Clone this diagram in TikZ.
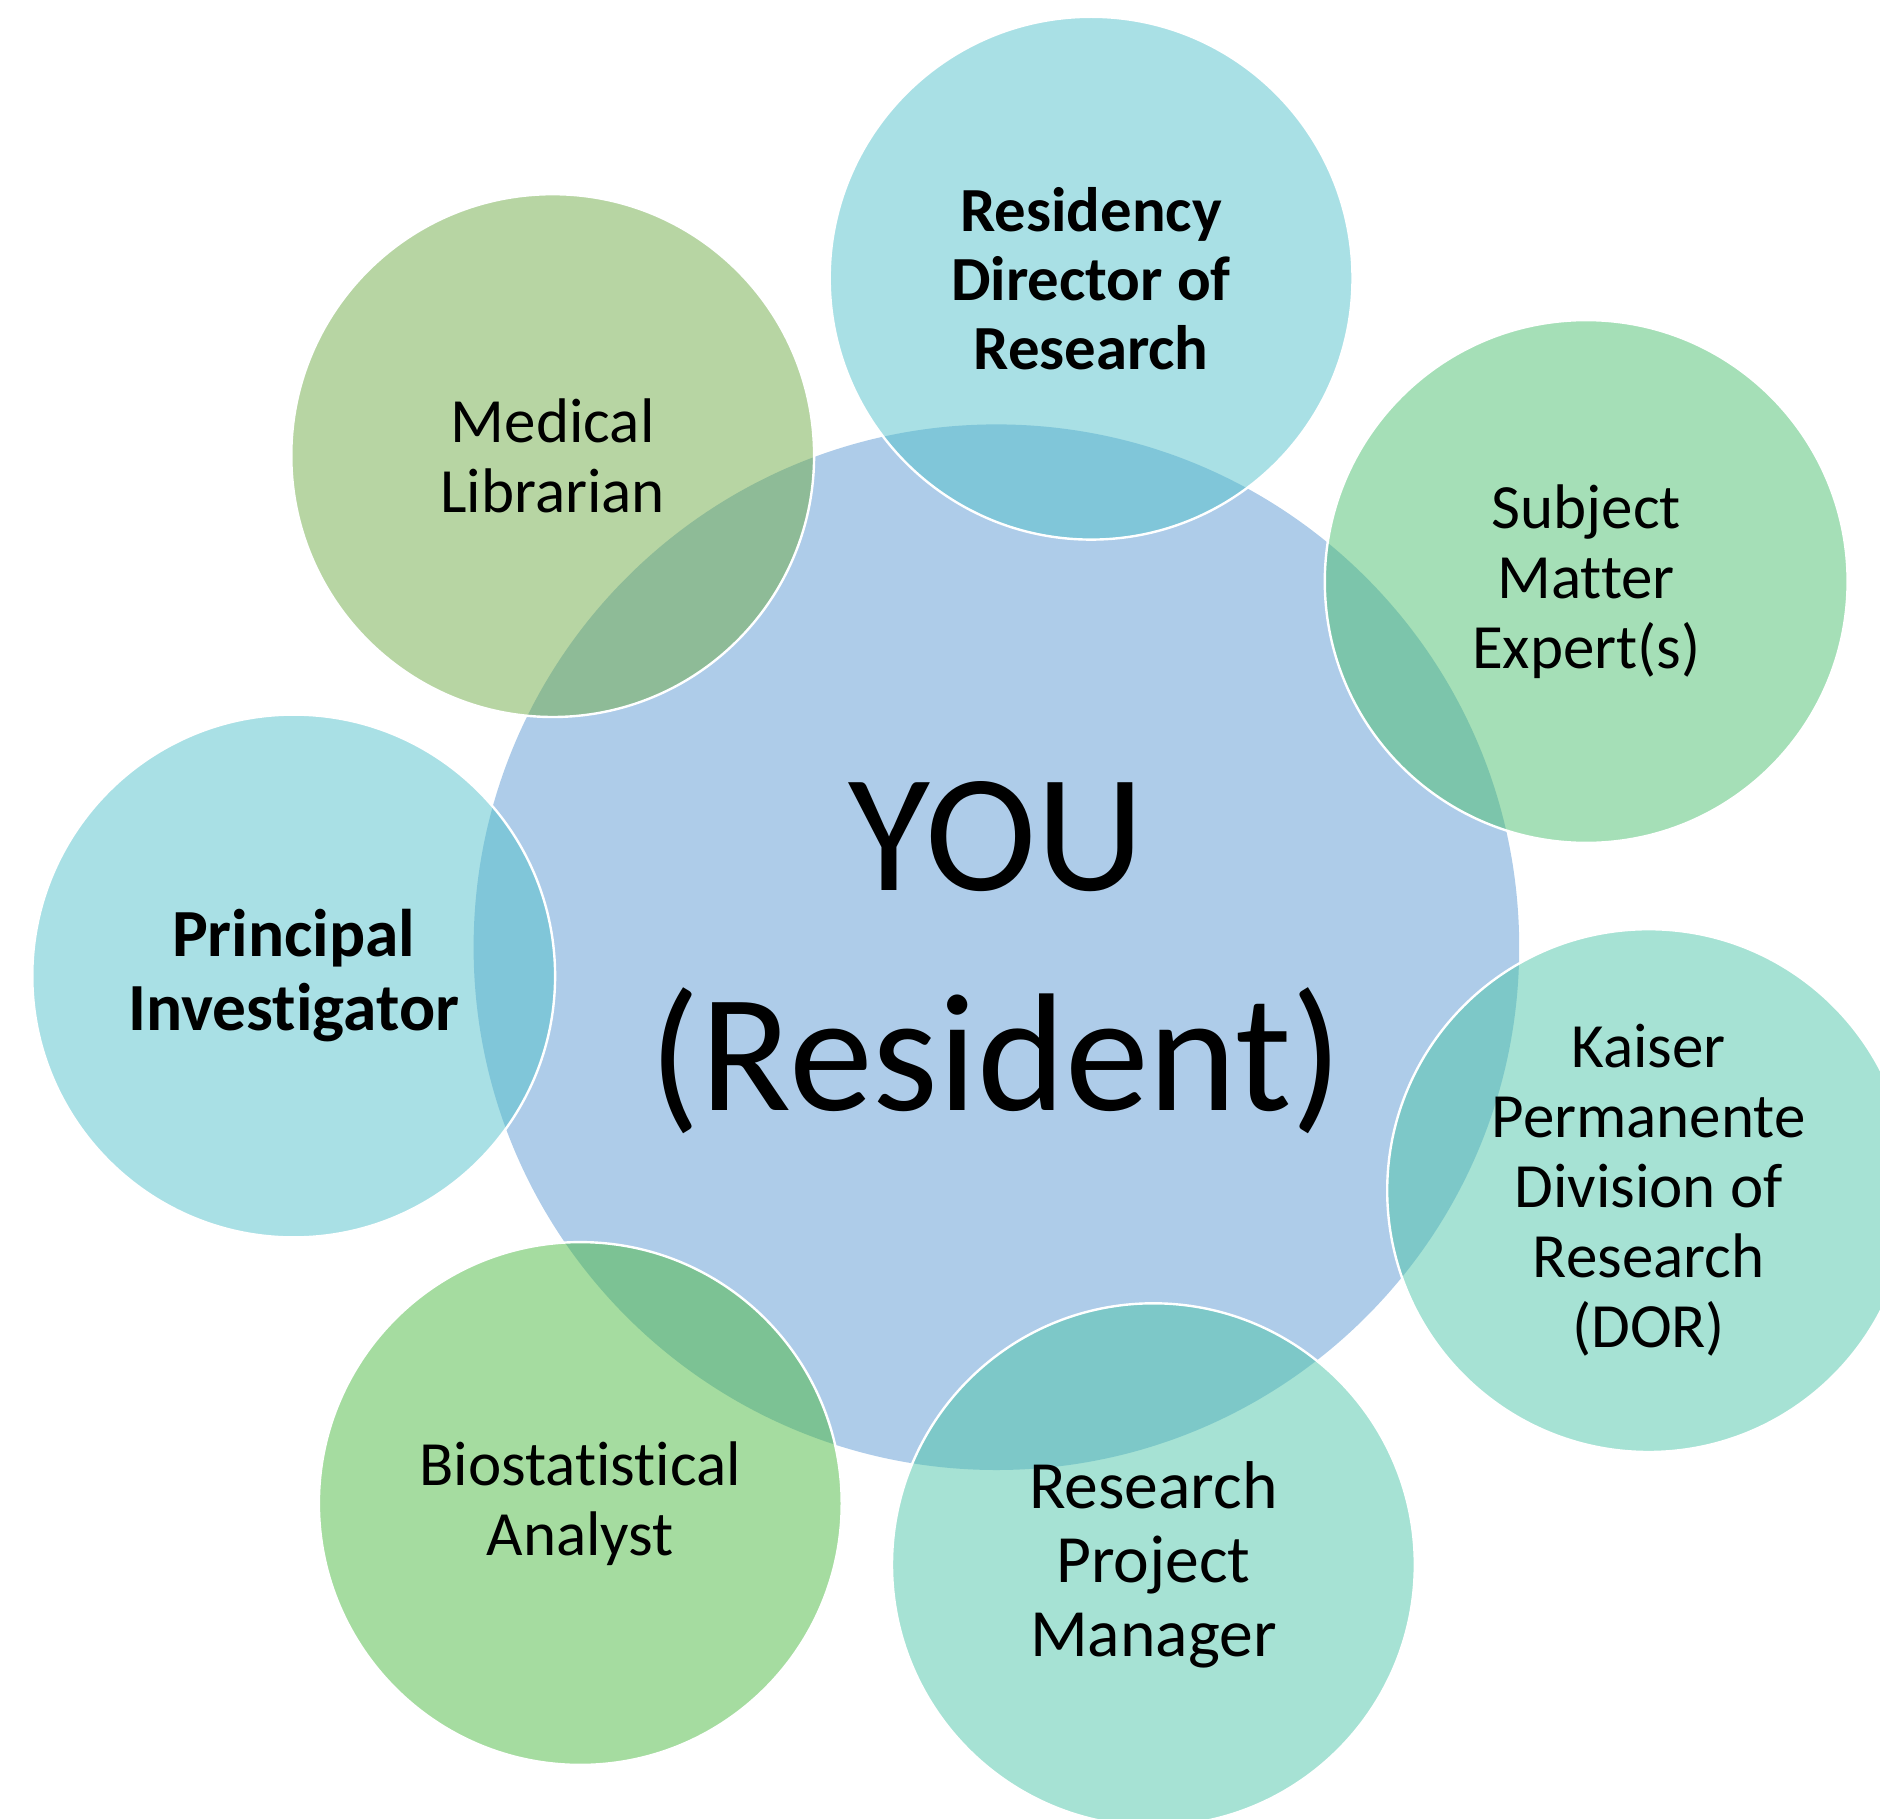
\documentclass[tikz,border=0pt]{standalone}
\usepackage{fontspec}
\setmainfont{Carlito}[Ligatures=NoCommon]
\definecolor{youblue}{RGB}{174,204,233}
\definecolor{cyanc}{RGB}{83,193,203}
\definecolor{olivec}{RGB}{111,171,71}
\definecolor{greenc}{RGB}{75,191,111}
\definecolor{tealc}{RGB}{77,197,169}
\definecolor{bioc}{RGB}{75,185,65}
\tikzset{
  sat/.style={circle, inner sep=0pt, minimum size=261.4pt, draw=white, line width=1.2pt,
    fill opacity=0.5, text opacity=1, draw opacity=1, align=center, text=black,
    font=\fontsize{31.5}{35}\selectfont},
  satbig/.style={font=\fontsize{33.8}{37}\selectfont},
}
\begin{document}
\begin{tikzpicture}[x=0.5pt,y=-0.5pt]
\useasboundingbox (0,0) rectangle (1880,1819);
\clip (0,0) rectangle (1880,1819);
\node[circle, inner sep=0pt, minimum size=522.8pt, fill=youblue] (you) at (996.4,947.2) {};
\node[align=center, font=\fontsize{84}{110}\selectfont] (youtext) at ([yshift=-5pt]you.center) {YOU\\(Resident)};
\node[sat, fill=cyanc, font=\bfseries\fontsize{31.4}{34.5}\selectfont] (resid) at (1091.1,278.2) {Residency\\Director of\\Research};
\node[sat, fill=olivec] (med) at (552.7,455.6) {Medical\\Librarian};
\node[sat, fill=greenc] (subj) at (1586.2,581.5) {Subject\\Matter\\Expert(s)};
\node[sat, fill=cyanc, font=\bfseries\fontsize{33.7}{37}\selectfont] (pi) at (293.7,976.0) {Principal\\Investigator};
\node[sat, fill=tealc] (kaiser) at (1648.6,1190.6) {Kaiser\\Permanente\\Division of\\Research\\(DOR)};
\node[sat, fill=bioc] (bio) at (580.3,1503.5) {Biostatistical\\Analyst};
\node[sat, satbig, fill=tealc] (rpm) at (1153.4,1564.7) {Research\\Project\\Manager};
\end{tikzpicture}
\end{document}
